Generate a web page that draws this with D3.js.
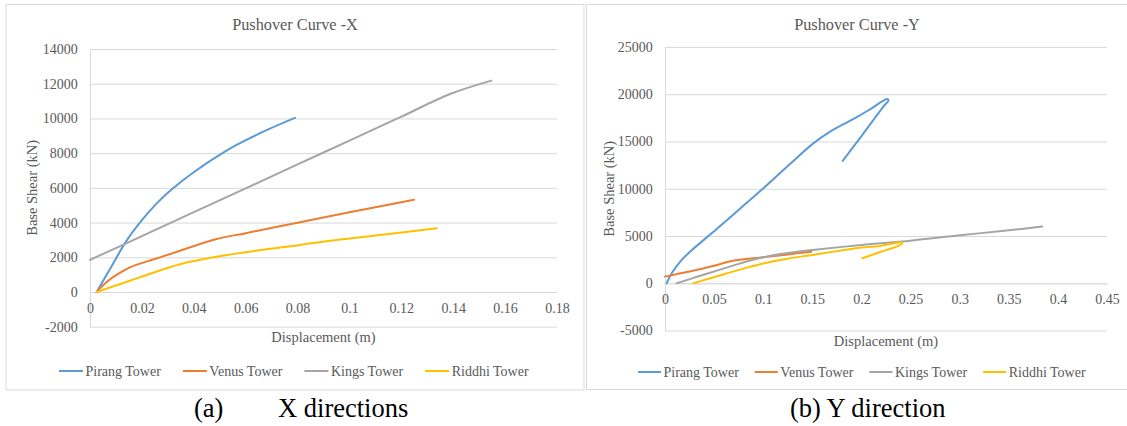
<!DOCTYPE html>
<html>
<head>
<meta charset="utf-8">
<script src="https://cdn.jsdelivr.net/npm/d3@7"></script>
<style>
  html, body { margin: 0; padding: 0; background: #ffffff; }
  svg { display: block; }
  svg text { font-family: "Liberation Serif", "Tinos", "Times New Roman", "DejaVu Serif", serif; }
</style>
</head>
<body>
<svg id="chart" width="1127" height="426"></svg>
<script>
// ---------- DATA ----------
const seriesNames = ["Pirang Tower", "Venus Tower", "Kings Tower", "Riddhi Tower"];
const seriesColors = ["#5B9BD5", "#ED7D31", "#A5A5A5", "#FFC000"];

// X direction
const xTicksX = [0, 0.02, 0.04, 0.06, 0.08, 0.1, 0.12, 0.14, 0.16, 0.18];
const yTicksX = [-2000, 0, 2000, 4000, 6000, 8000, 10000, 12000, 14000];

const pirangDispX  = [0.0026, 0.008, 0.0141, 0.02, 0.025, 0.03, 0.035, 0.04, 0.045, 0.05, 0.0565, 0.0668, 0.079];
const pirangShearX = [0, 1400, 2960, 4140, 4990, 5715, 6340, 6900, 7425, 7900, 8470, 9240, 10030];
const venusDispX   = [0.0026, 0.006, 0.0116, 0.0154, 0.025, 0.035, 0.0488, 0.06, 0.08, 0.1, 0.1249];
const venusShearX  = [0, 520, 1110, 1420, 1900, 2390, 3050, 3390, 3990, 4590, 5320];
const kingsDispX   = [0, 0.02, 0.04, 0.06, 0.08, 0.1, 0.12, 0.139, 0.1547];
const kingsShearX  = [1850, 3220, 4600, 5970, 7350, 8720, 10100, 11420, 12180];
const riddhiDispX  = [0.0026, 0.0154, 0.0218, 0.0347, 0.0488, 0.065, 0.081, 0.0925, 0.11, 0.1337];
const riddhiShearX = [0, 650, 980, 1600, 2030, 2400, 2710, 2955, 3250, 3670];

// Y direction
const xTicksY = [0, 0.05, 0.1, 0.15, 0.2, 0.25, 0.3, 0.35, 0.4, 0.45];
const yTicksY = [-5000, 0, 5000, 10000, 15000, 20000, 25000];

const pirangDispY  = [0.0017, 0.0068, 0.017, 0.0255, 0.0526, 0.0763, 0.1001, 0.125, 0.151, 0.1697, 0.1952, 0.21, 0.2263, 0.2275, 0.2223, 0.2, 0.1809];
const pirangShearY = [0, 1060, 2470, 3340, 5740, 7880, 10050, 12400, 14800, 16150, 17570, 18490, 19500, 19350, 18690, 15570, 12940];
const venusDispY   = [0, 0.025, 0.05, 0.068, 0.1, 0.125, 0.149];
const venusShearY  = [700, 1250, 1850, 2360, 2750, 3050, 3340];
const kingsDispY   = [0.012, 0.03, 0.05, 0.075, 0.1, 0.125, 0.15, 0.2, 0.25, 0.3, 0.35, 0.384];
const kingsShearY  = [0, 600, 1250, 2050, 2750, 3200, 3520, 4050, 4500, 5070, 5600, 6000];
const riddhiDispY  = [0.0288, 0.04, 0.06, 0.08, 0.1, 0.125, 0.15, 0.175, 0.2, 0.219, 0.232, 0.2395, 0.2415, 0.238, 0.219, 0.2009];
const riddhiShearY = [0, 350, 950, 1550, 2100, 2600, 3000, 3400, 3780, 3950, 4200, 4340, 4250, 3980, 3300, 2650];

// ---------- LAYOUT ----------
const TEXT_GRAY = "#595959";
const GRID = "#D9D9D9";

const panels = [
  {
    box: [6, 4.5, 578, 385.5],
    title: "Pushover Curve -X",
    xRange: [90, 557], yRange: [326.7, 49],
    xDomain: [0, 0.18], yDomain: [-2000, 14000],
    xTicks: xTicksX, yTicks: yTicksX,
    xPad: 11.5,
    series: [[pirangDispX, pirangShearX], [venusDispX, venusShearX], [kingsDispX, kingsShearX], [riddhiDispX, riddhiShearX]],
    xTitleY: 342, yTitleX: 36.5,
    legendY: 371, legendStart: 59, legendGap: 22, legendLine: 24,
    caption: [{t: "(a)", x: 194}, {t: "X directions", x: 278}]
  },
  {
    box: [586.5, 4.5, 541, 385],
    title: "Pushover Curve -Y",
    xRange: [665, 1107], yRange: [330.5, 47],
    xDomain: [0, 0.45], yDomain: [-5000, 25000],
    xTicks: xTicksY, yTicks: yTicksY,
    xPad: 10.5,
    series: [[pirangDispY, pirangShearY], [venusDispY, venusShearY], [kingsDispY, kingsShearY], [riddhiDispY, riddhiShearY]],
    xTitleY: 346, yTitleX: 614,
    legendY: 372, legendStart: 638, legendGap: 16, legendLine: 23,
    caption: [{t: "(b) Y direction", x: 790}]
  }
];

const svg = d3.select("#chart");
svg.append("rect").attr("width", 1127).attr("height", 426).attr("fill", "#fff");

const fmt = d => String(+(+d).toFixed(2));

panels.forEach(p => {
  const g = svg.append("g");
  g.append("rect")
    .attr("x", p.box[0]).attr("y", p.box[1])
    .attr("width", p.box[2]).attr("height", p.box[3])
    .attr("fill", "#fff").attr("stroke", GRID).attr("stroke-width", 1);

  const x = d3.scaleLinear().domain(p.xDomain).range(p.xRange);
  const y = d3.scaleLinear().domain(p.yDomain).range(p.yRange);

  g.append("text")
    .attr("x", p.box[0] + p.box[2] / 2).attr("y", 30)
    .attr("text-anchor", "middle")
    .style("font-size", "16.3px").attr("fill", TEXT_GRAY)
    .text(p.title);

  const yAxis = d3.axisLeft(y)
    .tickValues(p.yTicks)
    .tickSize(-(p.xRange[1] - p.xRange[0]))
    .tickSizeOuter(0)
    .tickPadding(12.3)
    .tickFormat(d => String(d));
  const ya = g.append("g").attr("transform", `translate(${p.xRange[0]},0)`).call(yAxis);
  ya.attr("font-family", null);
  ya.selectAll(".tick line").attr("stroke", GRID).attr("stroke-width", 1);
  ya.select(".domain").attr("stroke", GRID).attr("stroke-width", 1);
  ya.selectAll("text").style("font-size", "14px").attr("fill", TEXT_GRAY);

  const xAxis = d3.axisBottom(x)
    .tickValues(p.xTicks)
    .tickSize(0)
    .tickPadding(p.xPad)
    .tickFormat(fmt);
  const xa = g.append("g").attr("transform", `translate(0,${y(0)})`).call(xAxis);
  xa.attr("font-family", null);
  xa.select(".domain").attr("stroke", GRID).attr("stroke-width", 1);
  xa.selectAll("text").style("font-size", "14px").attr("fill", TEXT_GRAY);

  const line = d3.line()
    .x(d => x(d[0])).y(d => y(d[1]))
    .curve(d3.curveCatmullRom.alpha(0.5));
  p.series.forEach((s, i) => {
    const pts = s[0].map((v, k) => [v, s[1][k]]);
    g.append("path")
      .datum(pts)
      .attr("d", line)
      .attr("fill", "none")
      .attr("stroke", seriesColors[i])
      .attr("stroke-width", 2)
      .attr("stroke-linejoin", "round")
      .attr("stroke-linecap", "round");
  });

  g.append("text")
    .attr("x", (p.xRange[0] + p.xRange[1]) / 2).attr("y", p.xTitleY)
    .attr("text-anchor", "middle")
    .style("font-size", "14.5px").attr("fill", TEXT_GRAY)
    .text("Displacement (m)");
  const yc = (p.yRange[0] + p.yRange[1]) / 2;
  g.append("text")
    .attr("transform", `translate(${p.yTitleX},${yc}) rotate(-90)`)
    .attr("text-anchor", "middle")
    .style("font-size", "14.5px").attr("fill", TEXT_GRAY)
    .text("Base Shear (kN)");

  let lx = p.legendStart;
  seriesNames.forEach((name, i) => {
    g.append("line")
      .attr("x1", lx).attr("x2", lx + p.legendLine)
      .attr("y1", p.legendY).attr("y2", p.legendY)
      .attr("stroke", seriesColors[i]).attr("stroke-width", 2);
    const t = g.append("text")
      .attr("x", lx + p.legendLine + 2.5).attr("y", p.legendY + 5)
      .style("font-size", "14px").attr("fill", TEXT_GRAY)
      .text(name);
    lx = lx + p.legendLine + 2.5 + t.node().getComputedTextLength() + p.legendGap;
  });

  p.caption.forEach(c => {
    svg.append("text")
      .attr("x", c.x).attr("y", 417)
      .style("font-size", "26.5px").attr("fill", "#000")
      .text(c.t);
  });
});
</script>
</body>
</html>
